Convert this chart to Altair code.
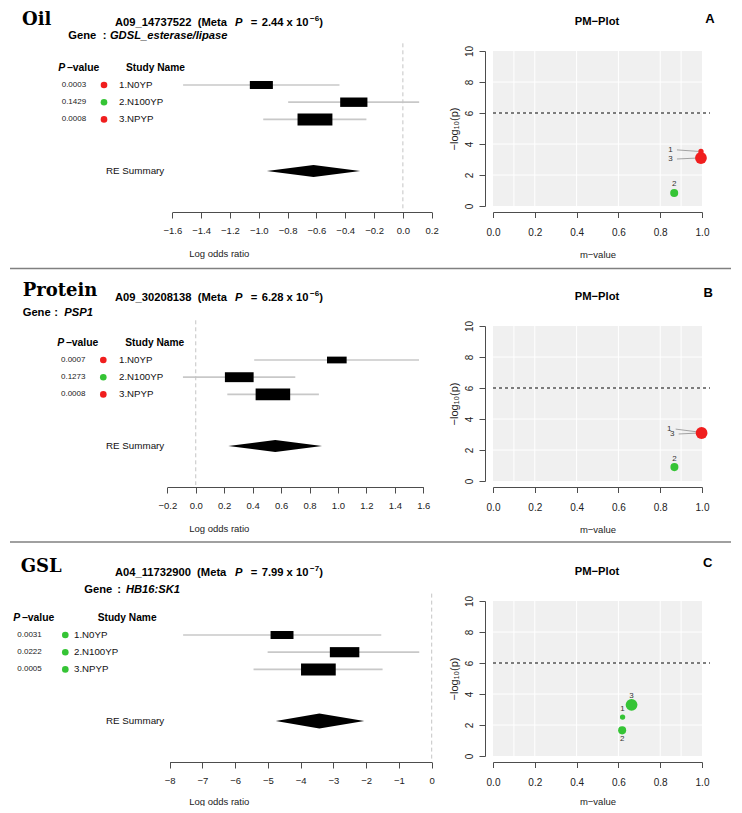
import math
import altair as alt
import pandas as pd

SANS = "Liberation Sans"
SERIF = "DejaVu Serif"

# ---------------- data ----------------
traits = ["Oil", "Protein", "GSL"]
panel_letters = ["A", "B", "C"]
snp_ids = ["A09_14737522", "A09_30208138", "A04_11732900"]
meta_p_mantissa = ["2.44", "6.28", "7.99"]
meta_p_exponent = ["\u22126", "\u22126", "\u22127"]
gene_names = ["GDSL_esterase/lipase", "PSP1", "HB16:SK1"]
study_names = ["1.N0YP", "2.N100YP", "3.NPYP"]
study_pvalues = [
    ["0.0003", "0.1429", "0.0008"],
    ["0.0007", "0.1273", "0.0008"],
    ["0.0031", "0.0222", "0.0005"],
]
ci_low = [[-1.525, -0.796, -0.969], [0.411, -0.09, 0.222], [-7.59, -5.01, -5.44]]
ci_high = [[-0.44, 0.113, -0.253], [1.570, 0.70, 0.866], [-1.54, -0.38, -1.50]]
box_low = [[-1.062, -0.435, -0.731], [0.923, 0.205, 0.421], [-4.92, -3.11, -3.99]]
box_high = [[-0.902, -0.246, -0.489], [1.061, 0.407, 0.664], [-4.22, -2.21, -2.93]]
re_low = [-0.944, 0.229, -4.76]
re_est = [-0.620, 0.559, -3.43]
re_high = [-0.296, 0.888, -2.06]
m_values = [[0.995, 0.867, 0.995], [0.998, 0.868, 0.998], [0.62, 0.618, 0.663]]
study_weight = [0.45, 0.68, 1.0]
pm_threshold = [6]
forest_ticks = [
    [-1.6, -1.4, -1.2, -1.0, -0.8, -0.6, -0.4, -0.2, 0.0, 0.2],
    [-0.2, 0.0, 0.2, 0.4, 0.6, 0.8, 1.0, 1.2, 1.4, 1.6],
    [-8, -7, -6, -5, -4, -3, -2, -1, 0],
]
forest_tick_format = [".1f", ".1f", "d"]
m_ticks = [0.0, 0.2, 0.4, 0.6, 0.8, 1.0]
nlp_ticks = [0, 2, 4, 6, 8, 10]
pm_grid_m = [0.1, 0.2, 0.4, 0.6, 0.8, 0.9]
pm_grid_nlp = [2, 4, 6, 8]

# ---------------- layout (page pixels) ----------------
FW, FH = 265, 155
PW, PH = 209, 155
COL_GAP, ROW_GAP = 61, 120
X0 = 167
PX0 = X0 + FW + COL_GAP
ROW_TOP = [50.7, 50.7 + FH + ROW_GAP, 50.7 + 2 * (FH + ROW_GAP)]
ROW_STEP = 17.2
ROW0 = 16.8
K_DOM = [-ROW0 / ROW_STEP, (FH - ROW0) / ROW_STEP]
forest_range = [[5.3, 264.7], [0.3, 256.3], [2.7, 264.7]]
diamond_half_px = [6.0, 6.0, 7.5]
BOX_ASPECT = 2.9

trait_x = [22, 22.7, 20.7]
trait_base = [24.3, 295.7, 571.7]
title_base = [25.7, 300.3, 575.7]
gene_x = [68.3, 22.7, 84.3]
gene_colon_dx = [34.4, 31.6, 33.0]
gene_base = [38.5, 315.7, 592.3]
head_p_x = [58.3, 57.3, 13.3]
head_study_x = [126, 125.3, 97.7]
pval_x = [61.7, 61.0, 17.3]
dot_x = [104, 103.3, 65.3]
name_x = [119, 119, 74]
re_x = 106
zero_top = [43, 320, 593.3]
sep_y = [None, 268.3, 541.7]
pm_title_base = [25, 299.3, 575]
letter_x = [710, 708.3, 707.7]
letter_base = [22.7, 296.7, 566.7]
forest_title_dy = [41, 41, 39]
pm_title_dy = [42.3, 42.3, 39]
label_offsets = [
    [(-30.5, -1.5), (0, -9), (-30.5, 1.0)],
    [(-32.4, -3.0), (0, -8.5), (-29.4, 1.0)],
    [(0, -8.4), (0, 8.3), (0, -8.6)],
]

RED, GREEN, BLUE = "#f01e1e", "#35c435", "#3333ee"
EFF_SCALE = alt.Scale(domain=["present", "ambiguous", "absent"], range=[RED, GREEN, BLUE])


def effect(m):
    return "present" if m > 0.9 else ("absent" if m < 0.1 else "ambiguous")


def label(text, x, y, size, weight="normal", style="normal", font=SANS,
          align="left", baseline="alphabetic", color="#000000"):
    return alt.Chart(pd.DataFrame({"t": [text]})).mark_text(
        align=align, baseline=baseline, fontSize=size, fontWeight=weight,
        fontStyle=style, font=font, color=color
    ).encode(text="t:N", x=alt.value(x), y=alt.value(y))


def forest_chart(r):
    top = ROW_TOP[r]
    fx = lambda px: px - X0
    fy = lambda py: py - top
    dom = [forest_ticks[r][0], forest_ticks[r][-1]]
    rng = forest_range[r]
    ppu = (rng[1] - rng[0]) / (dom[1] - dom[0])
    XS = alt.Scale(domain=dom, range=rng, nice=False, zero=False)
    YS = alt.Scale(domain=K_DOM, reverse=True, nice=False, zero=False)
    XA = alt.Axis(values=forest_ticks[r], format=forest_tick_format[r], offset=6,
                  tickSize=6, labelPadding=7.5, labelFontSize=9.5,
                  title="Log odds ratio", titleFontSize=9.5,
                  titleX=218.8 - X0, titleY=forest_title_dy[r],
                  titleAlign="center", titleBaseline="middle", titleAngle=0)

    rows = []
    for i in range(3):
        k = i + 1
        hh = (box_high[r][i] - box_low[r][i]) * ppu / BOX_ASPECT / 2 / ROW_STEP
        rows.append(dict(k=k, name=study_names[i], pval=study_pvalues[r][i],
                         lo=ci_low[r][i], hi=ci_high[r][i],
                         blo=box_low[r][i], bhi=box_high[r][i],
                         bk0=k - hh, bk1=k + hh, eff=effect(m_values[r][i])))
    df = pd.DataFrame(rows)
    ks = 3 + 3
    dh = diamond_half_px[r] / ROW_STEP
    dia = pd.DataFrame({"x": [re_low[r], re_est[r], re_high[r]],
                        "y0": [ks, ks - dh, ks], "y1": [ks, ks + dh, ks]})

    layers = []
    ci = alt.Chart(df).mark_rule(color="#c8c8c8", strokeWidth=1.7).encode(
        x=alt.X("lo:Q", scale=XS, axis=XA), x2="hi:Q",
        y=alt.Y("k:Q", scale=YS, axis=None))
    layers.append(ci)
    zero = alt.Chart(pd.DataFrame({"z": [0.0]})).mark_rule(
        color="#c4c4c4", strokeDash=[4, 3], strokeWidth=1
    ).encode(x=alt.X("z:Q", scale=XS, axis=XA),
             y=alt.value(fy(zero_top[r])), y2=alt.value(FH + 4))
    layers.append(zero)
    box = alt.Chart(df).mark_rect(color="black").encode(
        x=alt.X("blo:Q", scale=XS, axis=XA), x2="bhi:Q",
        y=alt.Y("bk0:Q", scale=YS, axis=None), y2="bk1:Q")
    layers.append(box)
    diamond = alt.Chart(dia).mark_area(color="black", opacity=1).encode(
        x=alt.X("x:Q", scale=XS, axis=XA),
        y=alt.Y("y0:Q", scale=YS, axis=None), y2="y1:Q")
    layers.append(diamond)
    dots = alt.Chart(df).mark_circle(opacity=1, size=44).encode(
        x=alt.value(fx(dot_x[r])), y=alt.Y("k:Q", scale=YS, axis=None),
        color=alt.Color("eff:N", scale=EFF_SCALE, legend=None))
    layers.append(dots)
    pv = alt.Chart(df).mark_text(align="left", baseline="middle", fontSize=8,
                                 font=SANS, color="#222222").encode(
        x=alt.value(fx(pval_x[r])), y=alt.Y("k:Q", scale=YS, axis=None), text="pval:N")
    layers.append(pv)
    nm = alt.Chart(df).mark_text(align="left", baseline="middle", fontSize=9.7,
                                 font=SANS, color="#111111").encode(
        x=alt.value(fx(name_x[r])), y=alt.Y("k:Q", scale=YS, axis=None), text="name:N")
    layers.append(nm)
    layers.append(label("RE Summary", fx(re_x), ROW0 + ROW_STEP * ks, 9.8,
                        baseline="middle", color="#111111"))
    layers.append(label("P", fx(head_p_x[r]), ROW0, 10.4, weight="bold",
                        style="italic", baseline="middle"))
    layers.append(label("\u2212value", fx(head_p_x[r]) + 8.4, ROW0, 10.4,
                        weight="bold", baseline="middle"))
    layers.append(label("Study Name", fx(head_study_x[r]), ROW0, 10.2,
                        weight="bold", baseline="middle"))

    # titles
    layers.append(label(traits[r], fx(trait_x[r]), fy(trait_base[r]), 18,
                        weight="bold", font=SERIF))
    tb = fy(title_base[r])
    layers.append(label(snp_ids[r] + "\u00a0\u00a0(Meta", fx(115), tb, 11.2, weight="bold"))
    layers.append(label("P", fx(235), tb, 11.2, weight="bold", style="italic"))
    layers.append(label("=", fx(250.7), tb, 11.2, weight="bold"))
    layers.append(label(meta_p_mantissa[r] + " x 10", fx(261.7), tb, 11.2, weight="bold"))
    layers.append(label(meta_p_exponent[r], fx(310), tb - 4.7, 8, weight="bold"))
    layers.append(label(")", fx(319.3), tb, 11.2, weight="bold"))
    gb = fy(gene_base[r])
    layers.append(label("Gene", fx(gene_x[r]), gb, 11.2, weight="bold"))
    layers.append(label(":", fx(gene_x[r] + gene_colon_dx[r]), gb, 11.2, weight="bold"))
    layers.append(label(gene_names[r], fx(gene_x[r] + 41.6), gb, 11.2,
                        weight="bold", style="italic"))

    one = pd.DataFrame({"a": [0]})
    if sep_y[r] is not None:
        sep = alt.Chart(one).mark_rule(color="#808080", strokeWidth=1.5).encode(
            x=alt.value(fx(10)), x2=alt.value(fx(731)), y=alt.value(fy(sep_y[r])))
        layers.append(sep)
    else:
        anchor = alt.Chart(one).mark_rule(strokeOpacity=0, strokeWidth=1).encode(
            x=alt.value(fx(8)), x2=alt.value(fx(9)), y=alt.value(fy(8)))
        layers.append(anchor)

    return alt.layer(*layers).properties(width=FW, height=FH)


def pm_chart(r):
    top = ROW_TOP[r]
    gx = lambda px: px - PX0
    gy = lambda py: py - top
    XS = alt.Scale(domain=[0, 1], nice=False, zero=False)
    YS = alt.Scale(domain=[0, 10], nice=False, zero=False)
    XA = alt.Axis(values=m_ticks, format=".1f", offset=6, tickSize=5.5,
                  labelPadding=9.5, labelFontSize=10, title="m\u2212value",
                  titleFontSize=9.5, titleX=PW / 2, titleY=pm_title_dy[r],
                  titleAlign="center", titleBaseline="middle")
    YA = alt.Axis(values=nlp_ticks, format="d", offset=8, tickSize=6,
                  labelPadding=10, labelFontSize=10, labelAngle=270,
                  labelAlign="center", labelBaseline="middle",
                  title="\u2212log\u2081\u2080(p)", titleFontSize=11,
                  titleX=-31, titleY=PH / 2, titleAngle=270,
                  titleAlign="center", titleBaseline="middle")
    ppm = PW / 1.0
    ppy = PH / 10.0

    rows = []
    for i in range(3):
        m = m_values[r][i]
        nlp = -math.log10(float(study_pvalues[r][i]))
        dx, dy = label_offsets[r][i]
        lm = m + dx / ppm
        ly = nlp - dy / ppy
        rows.append(dict(m=m, nlp=nlp, eff=effect(m), w=study_weight[i],
                         lab=str(i + 1), lm=lm, ly=ly,
                         has_leader=dx != 0,
                         l0=lm + 6.5 / ppm, l1=m - 2.5 / ppm))
    df = pd.DataFrame(rows)

    layers = []
    pts = alt.Chart(df).mark_circle(opacity=1).encode(
        x=alt.X("m:Q", scale=XS, axis=XA),
        y=alt.Y("nlp:Q", scale=YS, axis=YA),
        color=alt.Color("eff:N", scale=EFF_SCALE, legend=None),
        size=alt.Size("w:Q", scale=alt.Scale(type="pow", exponent=2, domain=[0, 1],
                                              range=[0, 139]), legend=None))
    vg = alt.Chart(pd.DataFrame({"g": pm_grid_m})).mark_rule(color="white", strokeWidth=1).encode(
        x=alt.X("g:Q", scale=XS, axis=XA), y=alt.value(0), y2=alt.value(PH))
    hg = alt.Chart(pd.DataFrame({"g": pm_grid_nlp})).mark_rule(color="white", strokeWidth=1).encode(
        y=alt.Y("g:Q", scale=YS, axis=YA), x=alt.value(0), x2=alt.value(PW))
    th = alt.Chart(pd.DataFrame({"t": pm_threshold})).mark_rule(
        color="black", strokeDash=[3, 3], strokeWidth=1).encode(
        y=alt.Y("t:Q", scale=YS, axis=YA), x=alt.value(0), x2=alt.value(gx(710)))
    layers += [vg, hg, th]

    lead = df[df["has_leader"]]
    if len(lead):
        layers.append(alt.Chart(lead).mark_rule(color="#9a9a9a", strokeWidth=0.9).encode(
            x=alt.X("l0:Q", scale=XS, axis=XA), x2="l1:Q",
            y=alt.Y("ly:Q", scale=YS, axis=YA), y2="nlp:Q"))
    layers.append(pts)
    labs = alt.Chart(df).mark_text(fontSize=8, font=SANS, color="#333333",
                                   align="center", baseline="middle").encode(
        x=alt.X("lm:Q", scale=XS, axis=XA), y=alt.Y("ly:Q", scale=YS, axis=YA),
        text="lab:N")
    layers.append(labs)
    layers.append(label("PM\u2212Plot", gx(597), gy(pm_title_base[r]), 11.2,
                        weight="bold", align="center"))
    layers.append(label(panel_letters[r], gx(letter_x[r]), gy(letter_base[r]), 13,
                        weight="bold", align="center"))

    return alt.layer(*layers).properties(
        width=PW, height=PH,
        view=alt.ViewBackground(fill="#f0f0f0", strokeWidth=0))


panels = []
for r in range(3):
    panels += [forest_chart(r), pm_chart(r)]

chart = alt.concat(*panels, columns=2).properties(
    spacing={"row": ROW_GAP, "column": COL_GAP}, bounds="flush", padding=0
).configure_view(strokeWidth=0).configure_axis(
    domainColor="#4d4d4d", tickColor="#4d4d4d", labelColor="#222222",
    titleColor="#222222", labelFont=SANS, titleFont=SANS, grid=False,
    labelFlush=False, labelOverlap=False, titleFontWeight="normal")

chart.save("out.html", embed_options={"renderer": "svg", "actions": False})
